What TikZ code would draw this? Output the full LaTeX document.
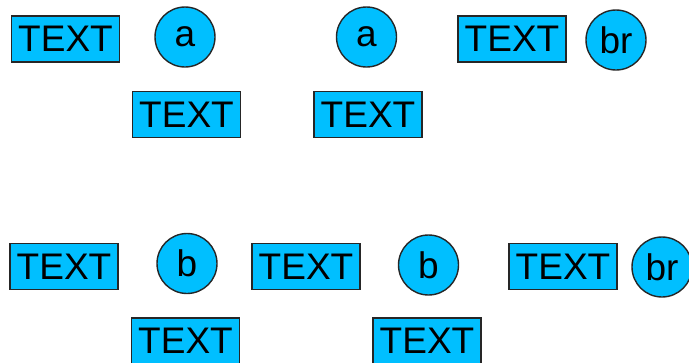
\documentclass[tikz,border=0pt]{standalone}
\usepackage{fontspec}
\setmainfont{Liberation Sans}
\definecolor{skyfill}{RGB}{0,191,255}
\begin{document}
\begin{tikzpicture}[x=1pt,y=-1pt,
  base/.style={fill=skyfill,draw=black!85,line width=1.4pt,inner sep=0pt,font=\fontsize{37}{40}\selectfont},
  tbox/.style={base,rectangle,minimum width=108pt,minimum height=46pt},
  circ/.style={base,circle,minimum size=60pt}]
\useasboundingbox (0,0) rectangle (689,362);
\clip (0,0) rectangle (689,362);
% row 1
\node[tbox] (t1) at (65.5,39) {TEXT};
\node[circ] (c1) at (185,37) {a};
\node[circ] (c2) at (366.5,37) {a};
\node[tbox] (t2) at (512,39) {TEXT};
\node[circ] (c3) at (616,40) {br};
% row 2
\node[tbox] (t3) at (186.5,114.5) {TEXT};
\node[tbox] (t4) at (368,114.5) {TEXT};
% row 3
\node[tbox] (t5) at (64,266.5) {TEXT};
\node[circ] (c4) at (187,263.5) {b};
\node[circ] (c5) at (428.5,265) {b};
\node[tbox] (t6) at (306,266.5) {TEXT};
\node[tbox] (t7) at (563,266.5) {TEXT};
\node[circ] (c6) at (662,267) {br};
% row 4
\node[tbox] (t8) at (185.5,341) {TEXT};
\node[tbox] (t9) at (427,341) {TEXT};
\end{tikzpicture}
\end{document}
